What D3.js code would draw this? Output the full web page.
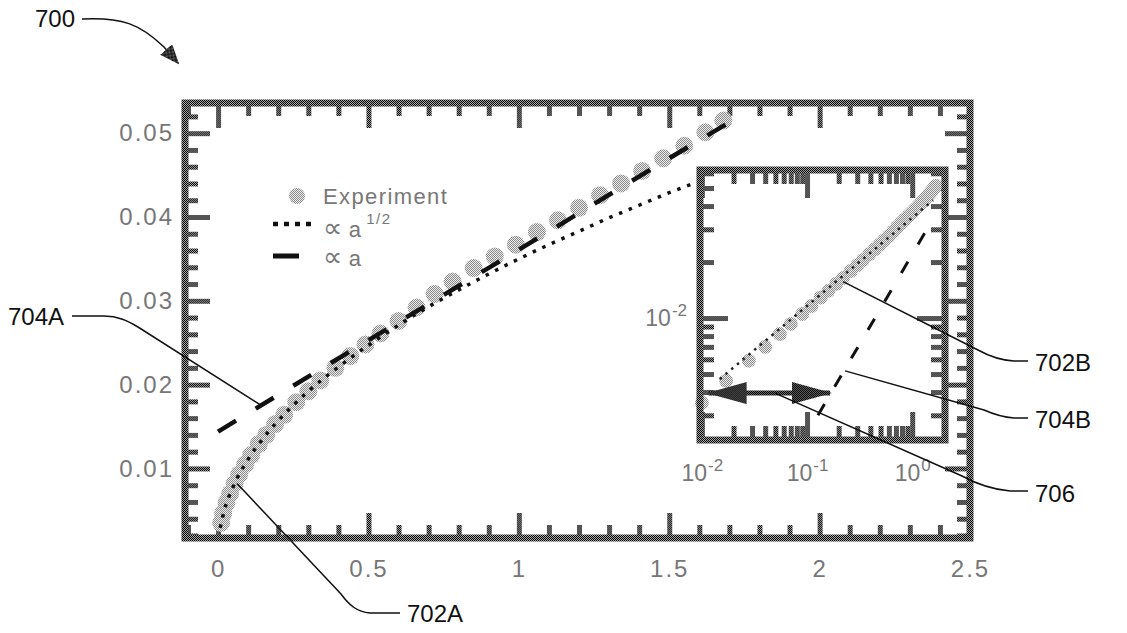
<!DOCTYPE html>
<html>
<head>
<meta charset="utf-8">
<style>
    body { margin: 0; background: #fff; }
    svg { font-family: "Liberation Sans", Arial, sans-serif; background: #fff; }
    .lbl text { fill: #777; font-size: 24px; letter-spacing: 2px; }
    .ilbl text { fill: #777; font-size: 23px; }
    .callout { fill: #111; font-size: 24px; }
    .leader { fill: none; stroke: #111; stroke-width: 1.5; }
    .legend { fill: #777; font-size: 22px; letter-spacing: 1.4px; }
</style>
</head>
<body>
<script src="https://d3js.org/d3.v7.min.js"></script>
<script>

    // experiment points (a, value)
    var expA = [0.01, 0.017, 0.028, 0.04, 0.055, 0.07, 0.09, 0.11, 0.135, 0.16, 0.19, 0.22, 0.26, 0.30, 0.34,
                0.39, 0.44, 0.49, 0.54, 0.60, 0.66, 0.72, 0.78, 0.85, 0.92, 0.99, 1.06, 1.13, 1.20, 1.27,
                1.34, 1.41, 1.48, 1.55, 1.62, 1.68];
    var expY = [0.0035, 0.0046, 0.0059, 0.0070, 0.0082, 0.0093, 0.0105, 0.0116, 0.0129, 0.0140, 0.0153, 0.0164,
                0.0179, 0.0192, 0.0205, 0.0220, 0.0234, 0.0248, 0.0261, 0.0276, 0.0292, 0.0308, 0.0323, 0.0339,
                0.0353, 0.0367, 0.0382, 0.0396, 0.0411, 0.0426, 0.0440, 0.0455, 0.0470, 0.0485, 0.0501, 0.0515];

    // dotted fit, proportional to a^1/2
    var sqrtA = [0.007, 0.02, 0.05, 0.1, 0.15, 0.2, 0.3, 0.4, 0.5, 0.6, 0.7, 0.8, 0.9, 1.0, 1.1, 1.2, 1.3, 1.4, 1.5, 1.58];
    var sqrtY = [0.0029, 0.0049, 0.0078, 0.0111, 0.0136, 0.0157, 0.0192, 0.0221, 0.0247, 0.0271, 0.0293, 0.0313,
                 0.0332, 0.0350, 0.0367, 0.0383, 0.0399, 0.0414, 0.0429, 0.0440];

    // dashed fit, proportional to a
    var linA = [0, 0.5, 1.0, 1.5, 1.7];
    var linY = [0.0144, 0.0253, 0.0361, 0.0470, 0.0513];

    // inset (log-log) fits
    var insetSqrtA = [0.0148, 1.58];
    var insetSqrtY = [0.0047, 0.043];
    var insetLinA = [0.127, 1.55];
    var insetLinY = [0.0030, 0.0336];
    var arrowA = [0.0116, 0.1654];
    var arrowY = 0.00395;

    var xTickMajor = [0, 0.5, 1, 1.5, 2, 2.5];
    var yTickMajor = [0.01, 0.02, 0.03, 0.04, 0.05];
    var insetXLabels = [0.01, 0.1, 1];
    var insetYLabels = [0.01];

    var svg = d3.select("body").append("svg")
        .attr("width", 1127)
        .attr("height", 633);

    var defs = svg.append("defs");

    function checker(id, light, dark) {
        var p = defs.append("pattern")
            .attr("id", id)
            .attr("patternUnits", "userSpaceOnUse")
            .attr("width", 2).attr("height", 2);
        p.append("rect").attr("width", 2).attr("height", 2).attr("fill", light);
        p.append("rect").attr("width", 1).attr("height", 1).attr("fill", dark);
        p.append("rect").attr("x", 1).attr("y", 1).attr("width", 1).attr("height", 1).attr("fill", dark);
    }
    checker("hatch", "#a8a8a8", "#000");
    checker("darkHatch", "#666", "#000");
    checker("stipple", "#ececec", "#8a8a8a");

    defs.append("marker")
        .attr("id", "head")
        .attr("markerUnits", "userSpaceOnUse")
        .attr("viewBox", "0 0 20 16")
        .attr("refX", 18).attr("refY", 8)
        .attr("markerWidth", 20).attr("markerHeight", 16)
        .attr("orient", "auto")
        .append("path")
        .attr("d", "M0,0L20,8L0,16z")
        .attr("fill", "url(#darkHatch)");

    defs.append("marker")
        .attr("id", "bigHead")
        .attr("markerUnits", "userSpaceOnUse")
        .attr("viewBox", "0 0 40 22")
        .attr("refX", 38).attr("refY", 11)
        .attr("markerWidth", 40).attr("markerHeight", 22)
        .attr("orient", "auto-start-reverse")
        .append("path")
        .attr("d", "M0,0L40,11L0,22z")
        .attr("fill", "url(#darkHatch)");

    // ---------- main plot ----------
    var x = d3.scaleLinear().domain([-0.11, 2.5]).range([185, 970]);
    var y = d3.scaleLinear().domain([0.0017, 0.0536]).range([538, 103]);

    var xMinor = d3.range(-1, 25).map(function(i) { return i / 10; })
        .filter(function(v) { return xTickMajor.indexOf(v) < 0; });
    var yMinor = d3.range(1, 27).map(function(i) { return i * 0.002; })
        .filter(function(v) { return Math.abs(Math.round(v * 100) - v * 100) > 1e-6; });

    function ticks(g, axis) {
        g.call(axis);
        g.select(".domain").remove();
        g.selectAll(".tick line").attr("stroke", "url(#hatch)").attr("stroke-width", 5);
        return g;
    }

    function frameAxes(xs, ys, xMaj, xMin, yMaj, yMin, majLen, minLen) {
        var x0 = xs.range()[0], x1 = xs.range()[1], yb = ys.range()[0], yt = ys.range()[1];
        [[xMaj, majLen], [xMin, minLen]].forEach(function(t) {
            ticks(svg.append("g").attr("transform", "translate(0," + yb + ")"),
                d3.axisBottom(xs).tickValues(t[0]).tickSizeInner(-t[1]).tickSizeOuter(0).tickFormat(""));
            ticks(svg.append("g").attr("transform", "translate(0," + yt + ")"),
                d3.axisTop(xs).tickValues(t[0]).tickSizeInner(-t[1]).tickSizeOuter(0).tickFormat(""));
        });
        [[yMaj, majLen], [yMin, minLen]].forEach(function(t) {
            ticks(svg.append("g").attr("transform", "translate(" + x0 + ",0)"),
                d3.axisLeft(ys).tickValues(t[0]).tickSizeInner(-t[1]).tickSizeOuter(0).tickFormat(""));
            ticks(svg.append("g").attr("transform", "translate(" + x1 + ",0)"),
                d3.axisRight(ys).tickValues(t[0]).tickSizeInner(-t[1]).tickSizeOuter(0).tickFormat(""));
        });
    }

    frameAxes(x, y, xTickMajor, xMinor, yTickMajor, yMinor, 25, 13);

    // tick labels
    var xl = svg.append("g").attr("class", "lbl").attr("transform", "translate(0,538)")
        .call(d3.axisBottom(x).tickValues(xTickMajor).tickSize(0).tickPadding(22).tickFormat(d3.format("")));
    xl.select(".domain").remove();
    var yl = svg.append("g").attr("class", "lbl").attr("transform", "translate(185,0)")
        .call(d3.axisLeft(y).tickValues(yTickMajor).tickSize(0).tickPadding(11).tickFormat(d3.format(".2f")));
    yl.select(".domain").remove();

    // experiment
    svg.append("g").selectAll("circle")
        .data(d3.zip(expA, expY))
        .join("circle")
        .attr("cx", function(d) { return x(d[0]); })
        .attr("cy", function(d) { return y(d[1]); })
        .attr("r", 9)
        .attr("fill", "url(#stipple)");

    var line = d3.line()
        .x(function(d) { return x(d[0]); })
        .y(function(d) { return y(d[1]); })
        .curve(d3.curveMonotoneX);

    svg.append("path")
        .datum(d3.zip(sqrtA, sqrtY))
        .attr("d", line)
        .attr("fill", "none")
        .attr("stroke", "#111")
        .attr("stroke-width", 3.5)
        .attr("stroke-dasharray", "3.5,7");

    svg.append("path")
        .datum(d3.zip(linA, linY))
        .attr("d", line)
        .attr("fill", "none")
        .attr("stroke", "#111")
        .attr("stroke-width", 4.5)
        .attr("stroke-dasharray", "21,23");

    svg.append("rect")
        .attr("x", 185).attr("y", 103)
        .attr("width", 785).attr("height", 435)
        .attr("fill", "none")
        .attr("stroke", "url(#hatch)")
        .attr("stroke-width", 7);

    // legend
    var lg = svg.append("g");
    lg.append("circle").attr("cx", 297).attr("cy", 196).attr("r", 8).attr("fill", "url(#stipple)");
    lg.append("text").attr("class", "legend").attr("x", 323).attr("y", 204).text("Experiment");
    lg.append("line").attr("x1", 273).attr("x2", 314).attr("y1", 224).attr("y2", 224)
        .attr("stroke", "#111").attr("stroke-width", 4.5).attr("stroke-dasharray", "5,6");
    var t2 = lg.append("text").attr("class", "legend").attr("x", 323).attr("y", 237);
    t2.append("tspan").attr("font-family", "DejaVu Sans").attr("font-size", "27px").text("\u221d");
    t2.append("tspan").attr("dx", 5).text("a");
    t2.append("tspan").attr("dx", 4).attr("dy", -13).attr("font-size", "15px").text("1/2");
    lg.append("line").attr("x1", 273).attr("x2", 299).attr("y1", 256).attr("y2", 256)
        .attr("stroke", "#111").attr("stroke-width", 5);
    var t3 = lg.append("text").attr("class", "legend").attr("x", 323).attr("y", 266);
    t3.append("tspan").attr("font-family", "DejaVu Sans").attr("font-size", "27px").text("\u221d");
    t3.append("tspan").attr("dx", 5).text("a");

    // ---------- inset ----------
    var xIn = d3.scaleLog().domain([0.0096, 2.05]).range([700, 945]);
    var yIn = d3.scaleLog().domain([0.00221, 0.0625]).range([440, 170]);

    svg.append("rect")
        .attr("x", 700).attr("y", 170).attr("width", 245).attr("height", 270)
        .attr("fill", "#fff");

    function isDecade(v) { var e = Math.log10(v); return Math.abs(e - Math.round(e)) < 1e-6; }
    var xInAll = xIn.ticks(), yInAll = yIn.ticks();
    frameAxes(xIn, yIn,
        xInAll.filter(isDecade), xInAll.filter(function(v) { return !isDecade(v); }),
        yInAll.filter(isDecade), yInAll.filter(function(v) { return !isDecade(v); }),
        28, 14);

    function powLabels(g) {
        g.select(".domain").remove();
        g.selectAll(".tick text").text(null).each(function(d) {
            var t = d3.select(this);
            t.append("tspan").text("10");
            t.append("tspan").attr("dx", 1).attr("dy", "-0.6em").attr("font-size", "17px").text(Math.round(Math.log10(d)));
        });
    }
    svg.append("g").attr("class", "ilbl").attr("transform", "translate(0,440)")
        .call(d3.axisBottom(xIn).tickValues(insetXLabels).tickSize(0).tickPadding(25))
        .call(powLabels);
    svg.append("g").attr("class", "ilbl").attr("transform", "translate(700,0)")
        .call(d3.axisLeft(yIn).tickValues(insetYLabels).tickSize(0).tickPadding(13))
        .call(powLabels);

    svg.append("g").selectAll("circle")
        .data(d3.zip(expA, expY))
        .join("circle")
        .attr("cx", function(d) { return xIn(d[0]); })
        .attr("cy", function(d) { return yIn(d[1]); })
        .attr("r", 7)
        .attr("fill", "url(#stipple)");

    var lineIn = d3.line()
        .x(function(d) { return xIn(d[0]); })
        .y(function(d) { return yIn(d[1]); });

    svg.append("path")
        .datum(d3.zip(insetSqrtA, insetSqrtY))
        .attr("d", lineIn)
        .attr("fill", "none")
        .attr("stroke", "#222")
        .attr("stroke-width", 2.5)
        .attr("stroke-dasharray", "2.5,5");

    svg.append("path")
        .datum(d3.zip(insetLinA, insetLinY))
        .attr("d", lineIn)
        .attr("fill", "none")
        .attr("stroke", "#111")
        .attr("stroke-width", 3)
        .attr("stroke-dasharray", "13,20");

    svg.append("line")
        .attr("x1", xIn(arrowA[0])).attr("x2", xIn(arrowA[1]))
        .attr("y1", yIn(arrowY)).attr("y2", yIn(arrowY))
        .attr("stroke", "url(#darkHatch)")
        .attr("stroke-width", 5)
        .attr("marker-start", "url(#bigHead)")
        .attr("marker-end", "url(#bigHead)");

    svg.append("rect")
        .attr("x", 700).attr("y", 170).attr("width", 245).attr("height", 270)
        .attr("fill", "none")
        .attr("stroke", "url(#hatch)")
        .attr("stroke-width", 7);

    // ---------- callouts ----------
    function leader(d, marker) {
        var p = svg.append("path").attr("class", "leader").attr("d", d);
        if (marker) p.attr("marker-end", "url(#head)");
    }
    function callout(tx, ty, s) {
        svg.append("text").attr("class", "callout").attr("x", tx).attr("y", ty).text(s);
    }

    callout(35, 27, "700");
    leader("M82,19C122,17 140,24 164,47L178,63", true);

    var p704a = [x(0.14), y(0.0176)];
    callout(8, 325, "704A");
    leader("M72,316L104,316C118,316 128,321 138,327L" + p704a);

    var p702a = [x(0.063), y(0.0082)];
    callout(407, 622, "702A");
    leader("M400,613L370,613C357,612 349,605 341,594L" + p702a);

    var p702b = [xIn(0.22), yIn(0.0157)];
    callout(1035, 371, "702B");
    leader("M" + p702b + "L978,350Q996,360 1014,361L1028,361");

    var p704b = [xIn(0.23), yIn(0.0052)];
    callout(1035, 428, "704B");
    leader("M" + p704b + "L984,410Q1000,417 1014,418L1028,418");

    var p706 = [xIn(0.0496), yIn(arrowY)];
    callout(1035, 502, "706");
    leader("M" + p706 + "L962,476Q986,489 1010,491L1028,491");

</script>
</body>
</html>
